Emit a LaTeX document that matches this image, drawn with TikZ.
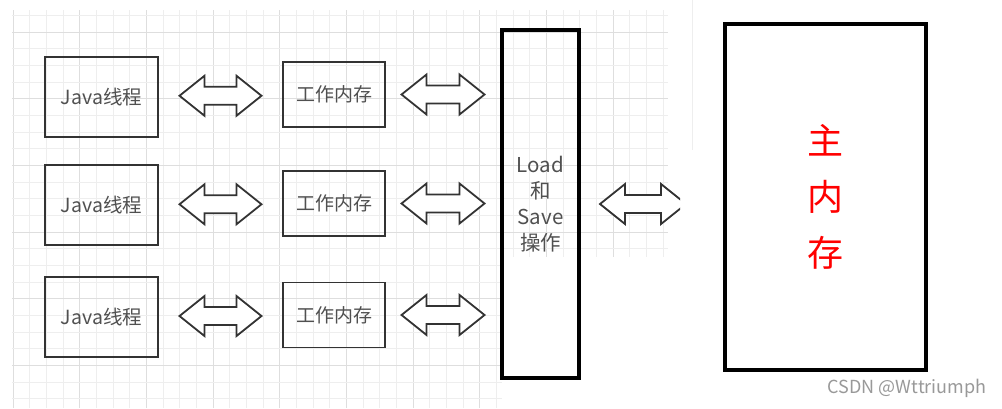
\documentclass[tikz,border=0pt]{standalone}
\usepackage{fontspec}
\setmainfont{Noto Sans CJK SC}
\usetikzlibrary{calc}
\definecolor{gridminor}{HTML}{EEEEEE}
\definecolor{gridmajor}{HTML}{DEDEDE}
\definecolor{boxline}{HTML}{333333}
\definecolor{labelgray}{HTML}{505050}
\definecolor{markgray}{HTML}{999999}
\tikzset{
  thread/.style={draw=boxline, line width=1.6pt, minimum width=113pt, minimum height=80pt, inner sep=0pt, font=\fontsize{19.5}{22}\selectfont, text=labelgray},
  workmem/.style={draw=boxline, line width=1.6pt, minimum width=102pt, minimum height=65pt, inner sep=0pt, font=\fontsize{19}{22}\selectfont, text=labelgray},
  bigbox/.style={draw=black, line width=3.5pt, inner sep=0pt, align=center},
  barr/.style={draw=boxline, line width=1.8pt, line join=miter, fill=white},
}
\newcommand\barrow[2]{% #1 = centre coordinate, #2 = half length
  \draw[barr] ([xshift=-#2]#1) -- ++(25pt,20pt) -- ++(0pt,-11pt)
    -- ([xshift=#2-25pt,yshift=9pt]#1) -- ++(0pt,11pt) -- ([xshift=#2]#1)
    -- ++(-25pt,-20pt) -- ++(0pt,11pt) -- ([xshift=-#2+25pt,yshift=-9pt]#1)
    -- ++(0pt,-11pt) -- cycle;}
\begin{document}
\begin{tikzpicture}[x=1pt,y=-1pt]
\useasboundingbox[fill=white] (0,0) rectangle (1002,408);
% background grid
\foreach \k in {0,...,39}{
  \pgfmathsetmacro\gx{13+16.6667*\k}
  \pgfmathtruncatemacro\maj{mod(\k,4)==0}
  \ifnum\maj=1 \def\gc{gridmajor}\else\def\gc{gridminor}\fi
  \pgfmathsetmacro\gy{\gx>503 ? 257 : 408}
  \draw[\gc, line width=0.8pt] (\gx,10) -- (\gx,\gy);
}
\foreach \k in {0,...,23}{
  \pgfmathsetmacro\gy{15.33+16.6667*\k}
  \pgfmathtruncatemacro\maj{mod(\k+3,4)==0}
  \ifnum\maj=1 \def\gc{gridmajor}\else\def\gc{gridminor}\fi
  \pgfmathsetmacro\gx{\gy>257 ? 502 : 668}
  \draw[\gc, line width=0.8pt] (12,\gy) -- (\gx,\gy);
}
\draw[gridminor, line width=0.8pt] (692,0) -- (692,150);
% boxes
\node[thread] (j1) at (101.5,97) {Java线程};
\node[thread] (j2) at (101.5,205) {Java线程};
\node[thread] (j3) at (101.5,317) {Java线程};
\node[workmem] (w1) at (334,94.5) {工作内存};
\node[workmem] (w2) at (334,203.5) {工作内存};
\node[workmem] (w3) at (334,315) {工作内存};
\node[bigbox, minimum width=77pt, minimum height=348pt, text=labelgray,
      font=\fontsize{20.5}{26}\selectfont] (ls) at (540.5,204) {Load\\和\\Save\\操作};
\node[bigbox, minimum width=201pt, minimum height=346pt, text=red,
      font=\fontsize{36}{56}\selectfont] (mm) at (825.5,197) {主\\内\\存};
% double block arrows
\foreach \r in {1,2,3}{
  \coordinate (a\r) at ($(j\r.east)!0.5!(w\r.west)$);
  \barrow{a\r}{41pt}
  \coordinate (t\r) at (w\r.east -| ls.west);
  \coordinate (b\r) at ($(w\r.east)!0.5!(t\r)$);
  \barrow{b\r}{41.5pt}
}
\coordinate (t4) at (ls.east -| mm.west);
\coordinate (c1) at ($(ls.east)!0.5!(t4)+(-9pt,0pt)$);
\begin{scope}
  \clip (590,150) rectangle (680,260);
  \barrow{c1}{43pt}
\end{scope}
% watermark
\node[text=markgray, font=\fontsize{18}{20}\selectfont, inner sep=0pt] (wm) at (907,388) {CSDN @Wttriumph};
\end{tikzpicture}
\end{document}
